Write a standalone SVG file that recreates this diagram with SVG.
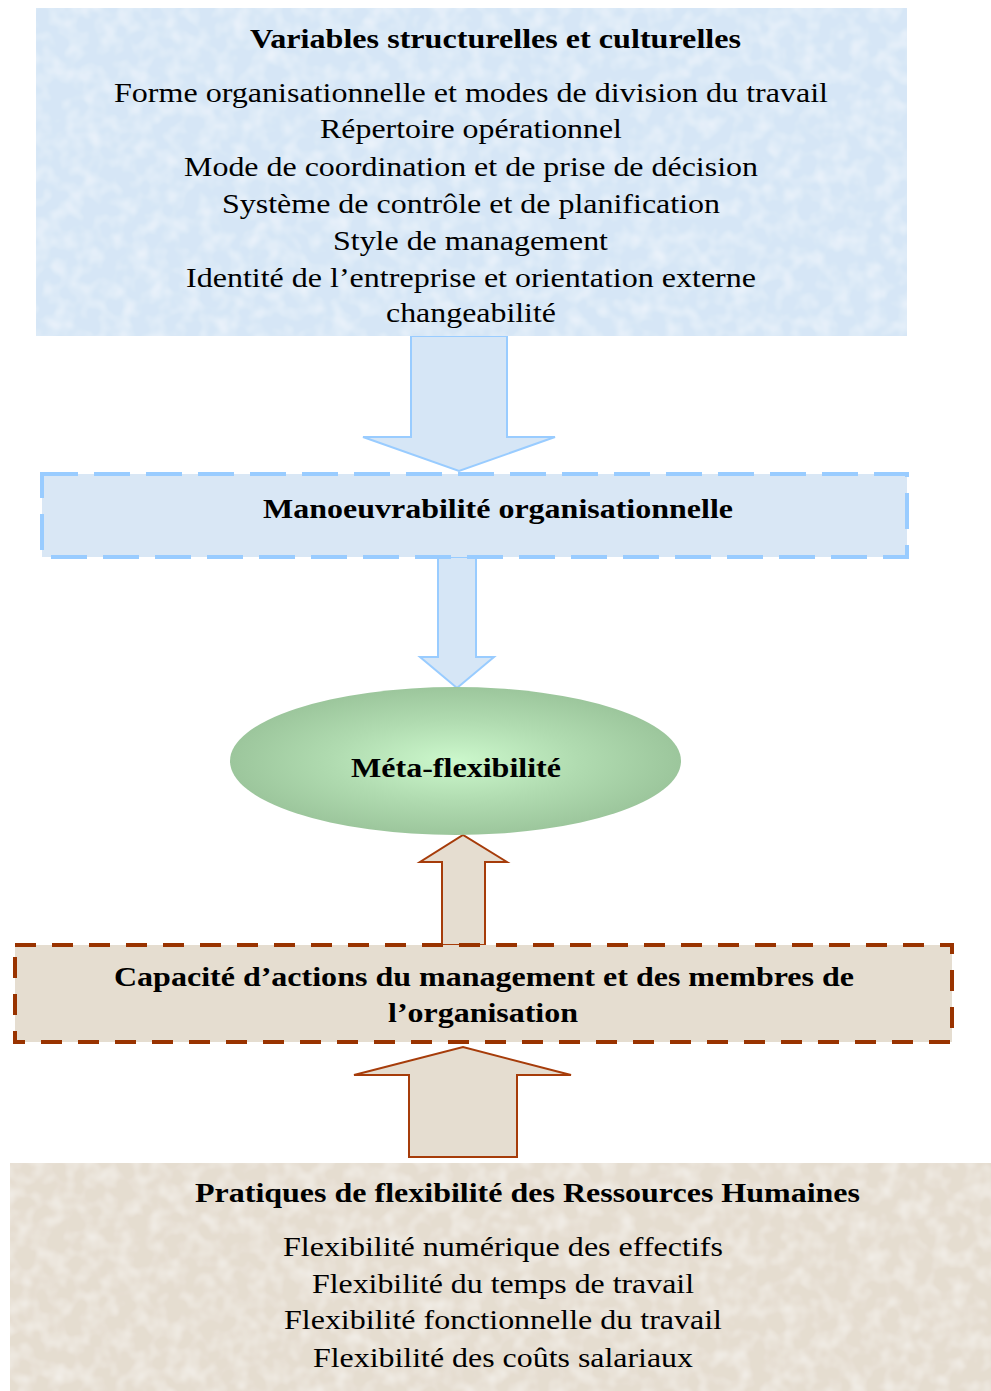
<svg xmlns="http://www.w3.org/2000/svg" width="991" height="1391" viewBox="0 0 991 1391">
<style>
  text { font-family: "Liberation Serif", "Times New Roman", serif; font-size: 28px; fill: #000; }
  .b { font-weight: bold; }
  .blueFill { fill: #d6e6f6; }
  .brownFill { fill: #e5ddd0; }
  .blueArrow { fill: #d6e6f6; stroke: #99ccff; stroke-width: 2; }
  .brownArrow { fill: #e5ddd0; stroke: #a63c0a; stroke-width: 2; }
  .blueDash { fill: #d9e7f5; stroke: #99ccff; stroke-width: 4; stroke-dasharray: 36 16; }
  .brownDash { fill: #e5ddd0; stroke: #993300; stroke-width: 4; stroke-dasharray: 21 16; }
</style>
<defs>
  <radialGradient id="gEll" cx="50%" cy="50%" r="50%">
    <stop offset="0" stop-color="#ccf8cc"/>
    <stop offset="0.55" stop-color="#b0dbb0"/>
    <stop offset="1" stop-color="#9cc69c"/>
  </radialGradient>
  <filter id="tex" x="0" y="0" width="100%" height="100%">
    <feTurbulence type="fractalNoise" baseFrequency="0.06" numOctaves="2" seed="3" result="n"/>
    <feColorMatrix in="n" type="matrix" values="0 0 0 0 1  0 0 0 0 1  0 0 0 0 1  0 0 0 0.9 -0.35" result="w"/>
    <feComposite in="w" in2="SourceGraphic" operator="in" result="wc"/>
    <feMerge><feMergeNode in="SourceGraphic"/><feMergeNode in="wc"/></feMerge>
  </filter>
</defs>

<g id="connectors">
  <path id="arrow1" class="blueArrow" d="M411,336 L507,336 L507,437 L555,437 L459,471 L363,437 L411,437 Z"/>
  <path id="arrow2" class="blueArrow" d="M438,557 L476,557 L476,657 L494,657 L457,688 L420,657 L438,657 Z"/>
  <path id="arrow3" class="brownArrow" d="M442,945 L442,862 L420,862 L463,835 L507,862 L485,862 L485,945 Z"/>
  <path id="arrow4" class="brownArrow" d="M409,1157 L409,1075 L354,1075 L463,1047 L571,1075 L517,1075 L517,1157 Z"/>
</g>

<g id="node-variables">
  <rect class="blueFill" x="36" y="8" width="871" height="328" filter="url(#tex)"/>
  <text class="b" x="250" y="48" textLength="491" lengthAdjust="spacingAndGlyphs">Variables structurelles et culturelles</text>
  <text x="114" y="102" textLength="714" lengthAdjust="spacingAndGlyphs">Forme organisationnelle et modes de division du travail</text>
  <text x="320" y="138" textLength="302" lengthAdjust="spacingAndGlyphs">Répertoire opérationnel</text>
  <text x="184" y="176" textLength="574" lengthAdjust="spacingAndGlyphs">Mode de coordination et de prise de décision</text>
  <text x="222" y="213" textLength="498" lengthAdjust="spacingAndGlyphs">Système de contrôle et de planification</text>
  <text x="333" y="250" textLength="275" lengthAdjust="spacingAndGlyphs">Style de management</text>
  <text x="186" y="287" textLength="570" lengthAdjust="spacingAndGlyphs">Identité de l’entreprise et orientation externe</text>
  <text x="386" y="322" textLength="170" lengthAdjust="spacingAndGlyphs">changeabilité</text>
</g>

<g id="node-manoeuvrabilite">
  <rect class="blueDash" x="42" y="474" width="865" height="83"/>
  <text class="b" x="263" y="518" textLength="470" lengthAdjust="spacingAndGlyphs">Manoeuvrabilité organisationnelle</text>
</g>

<g id="node-meta">
  <ellipse cx="455.5" cy="761" rx="225.5" ry="74" fill="url(#gEll)"/>
  <text class="b" x="351" y="777" textLength="210" lengthAdjust="spacingAndGlyphs">Méta-flexibilité</text>
</g>

<g id="node-capacite">
  <rect class="brownDash" x="15" y="945" width="937" height="97"/>
  <text class="b" x="114" y="986" textLength="740" lengthAdjust="spacingAndGlyphs">Capacité d’actions du management et des membres de</text>
  <text class="b" x="388" y="1022" textLength="190" lengthAdjust="spacingAndGlyphs">l’organisation</text>
</g>

<g id="node-pratiques">
  <rect class="brownFill" x="10" y="1163" width="981" height="228" filter="url(#tex)"/>
  <text class="b" x="195" y="1202" textLength="665" lengthAdjust="spacingAndGlyphs">Pratiques de flexibilité des Ressources Humaines</text>
  <text x="283" y="1256" textLength="440" lengthAdjust="spacingAndGlyphs">Flexibilité numérique des effectifs</text>
  <text x="312" y="1293" textLength="382" lengthAdjust="spacingAndGlyphs">Flexibilité du temps de travail</text>
  <text x="284" y="1329" textLength="438" lengthAdjust="spacingAndGlyphs">Flexibilité fonctionnelle du travail</text>
  <text x="313" y="1367" textLength="380" lengthAdjust="spacingAndGlyphs">Flexibilité des coûts salariaux</text>
</g>
</svg>
